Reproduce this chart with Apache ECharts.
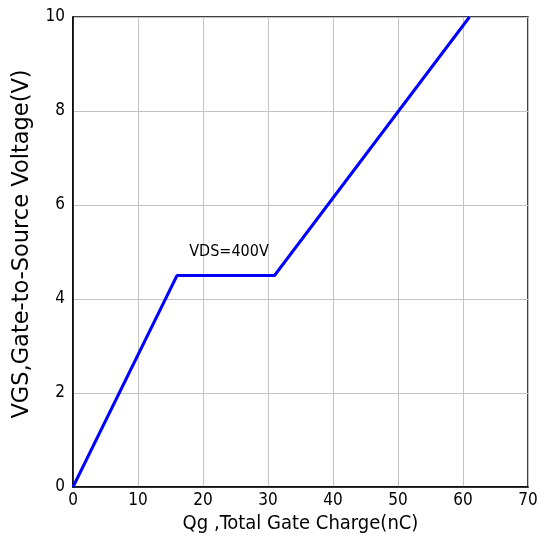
<!DOCTYPE html>
<html>
<head>
<meta charset="utf-8">
<script src="https://cdn.jsdelivr.net/npm/echarts@6/dist/echarts.min.js"></script>
<style>
html,body{margin:0;padding:0;background:#fff;}
#c{width:547px;height:545px;}
</style>
</head>
<body>
<div id="c"></div>
<script>
// Data
var qg = [0, 16, 31, 61];          // nC
var vgs = [0, 4.5, 4.5, 10];       // V
var xTicks = [0, 10, 20, 30, 40, 50, 60, 70];
var yTicks = [0, 2, 4, 6, 8, 10];
var noteText = 'VDS=400V';
var notePos = [24, 5.0];

var narrow = '"Liberation Sans Narrow", "DejaVu Sans Condensed", "Arial Narrow", sans-serif';

var chart = echarts.init(document.getElementById('c'), null, {renderer: 'canvas'});
var lineData = qg.map(function (x, i) { return [x, vgs[i]]; });

chart.setOption({
  animation: false,
  backgroundColor: '#fff',
  grid: {
    left: 73, right: 19, top: 17, bottom: 58,
    outerBoundsMode: 'none', containLabel: false,
    show: true, borderColor: '#000', borderWidth: 1.5, backgroundColor: 'transparent'
  },
  xAxis: {
    type: 'value',
    min: xTicks[0], max: xTicks[xTicks.length - 1], interval: 10,
    name: 'Qg ,Total Gate Charge(nC)',
    nameLocation: 'middle', nameGap: 27,
    nameTextStyle: {fontFamily: narrow, fontSize: 20, color: '#000'},
    axisLine: {show: true, lineStyle: {color: '#000', width: 1.5}},
    axisTick: {show: false},
    axisLabel: {fontFamily: narrow, fontSize: 17, color: '#000', margin: 5},
    splitLine: {show: true, lineStyle: {color: '#c4c4c4', width: 1}}
  },
  yAxis: {
    type: 'value',
    min: yTicks[0], max: yTicks[yTicks.length - 1], interval: 2,
    name: 'VGS,Gate-to-Source Voltage(V)',
    nameLocation: 'middle', nameGap: 39,
    nameTextStyle: {fontFamily: '"DejaVu Sans", sans-serif', fontSize: 22.5, color: '#000', padding: [0, 0, 0, 16]},
    axisLine: {show: true, lineStyle: {color: '#000', width: 1.5}},
    axisTick: {show: false},
    axisLabel: {fontFamily: narrow, fontSize: 17, color: '#000', margin: 8},
    splitLine: {show: true, lineStyle: {color: '#c4c4c4', width: 1}}
  },
  series: [
    {
      type: 'line',
      data: lineData,
      symbol: 'none',
      lineStyle: {color: '#0000ff', width: 3},
      z: 5
    },
    {
      type: 'scatter',
      data: [notePos],
      symbolSize: 0,
      silent: true,
      itemStyle: {color: '#000', opacity: 1},
      label: {
        show: true, position: 'inside',
        formatter: noteText,
        fontFamily: narrow, fontSize: 16, color: '#000',
        textBorderWidth: 0
      }
    }
  ]
});
</script>
</body>
</html>
